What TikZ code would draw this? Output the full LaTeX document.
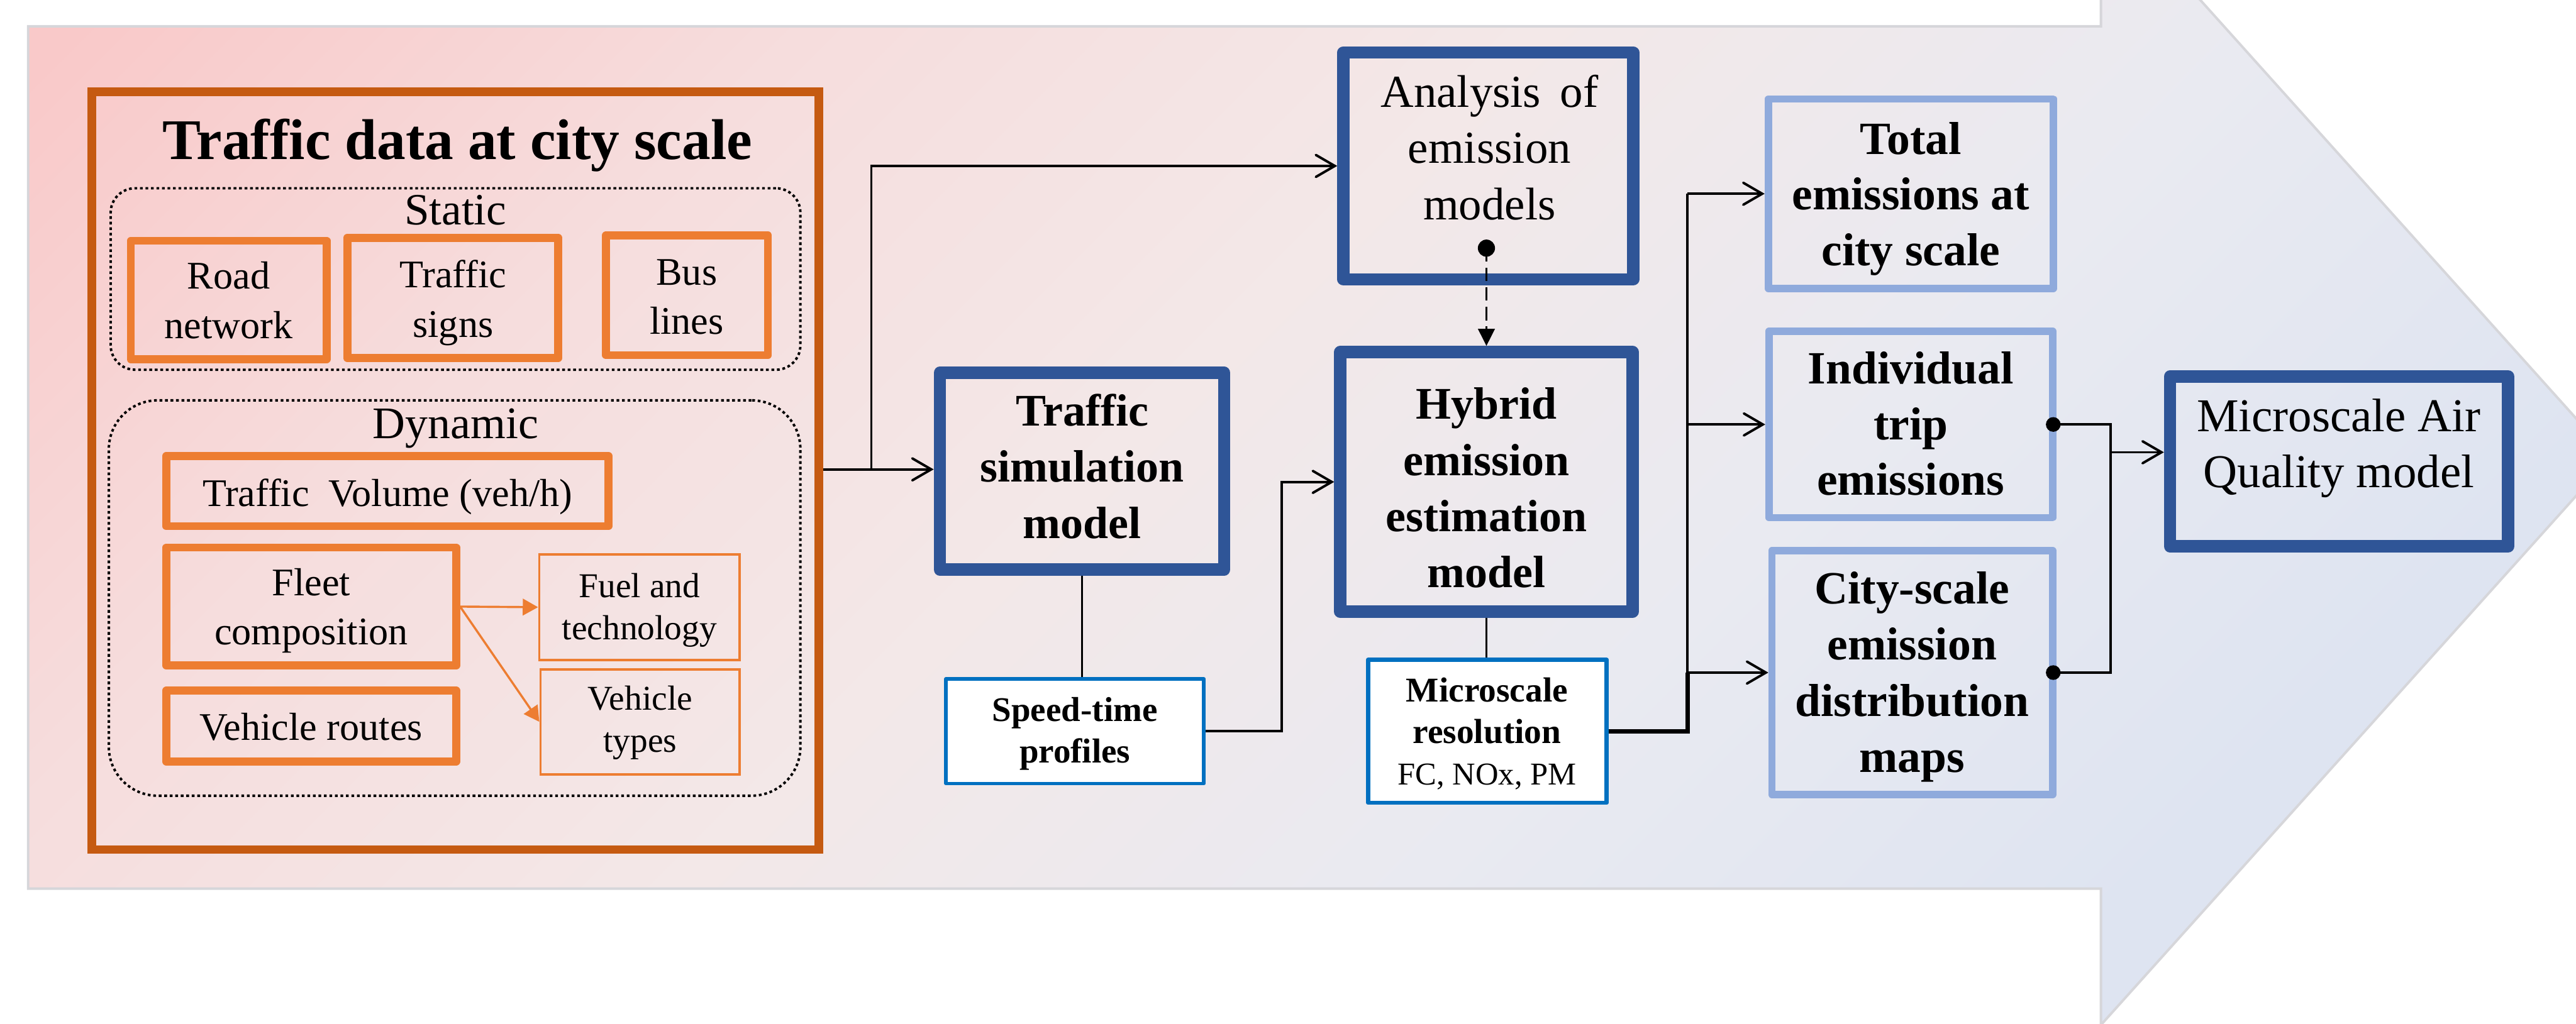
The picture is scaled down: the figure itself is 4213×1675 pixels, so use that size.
\documentclass[tikz,border=0pt]{standalone}
\usepackage{fontspec}
\setmainfont{LiberationSerif}[Extension=.ttf,UprightFont=*-Regular,BoldFont=*-Bold,ItalicFont=*-Italic,BoldItalicFont=*-BoldItalic]
\usetikzlibrary{arrows.meta}

\definecolor{dblue}{RGB}{47,85,151}
\definecolor{lblue}{RGB}{143,170,220}
\definecolor{orng}{RGB}{237,125,49}
\definecolor{dorng}{RGB}{197,90,17}
\definecolor{bblue}{RGB}{0,112,192}
\definecolor{edgegray}{RGB}{214,214,218}
% background gradient stops, from the bottom-right end to the top-left end
\definecolor{bgA}{RGB}{222,228,241}
\definecolor{bgB}{RGB}{233,234,241}
\definecolor{bgC}{RGB}{243,232,232}
\definecolor{bgD}{RGB}{246,221,221}
\definecolor{bgE}{RGB}{249,201,201}
\pgfdeclareverticalshading{bgshade}{100bp}{color(0bp)=(bgA); color(26bp)=(bgA);
  color(40bp)=(bgB); color(54bp)=(bgC); color(68bp)=(bgD); color(82bp)=(bgE); color(100bp)=(bgE)}

% centred stack of lines whose baseline is the first line
\newcommand{\stk}[1]{\begin{tabular}[t]{@{}c@{}}#1\end{tabular}}
\newcommand{\fsz}[2]{\fontsize{#1pt}{#2pt}\selectfont}

\begin{document}
\begin{tikzpicture}[x=0.01cm,y=-0.01cm,
  wh/.style 2 args={minimum width=#1*0.01cm,minimum height=#2*0.01cm},
  bluebox/.style={draw=dblue,line width=0.2cm,line join=round,inner sep=0pt},
  lbox/.style={draw=lblue,line width=0.12cm,line join=round,inner sep=0pt},
  obox/.style={draw=orng,line width=0.13cm,line join=round,inner sep=0pt},
  othin/.style={draw=orng,line width=0.04cm,inner sep=0pt},
  wbox/.style={draw=bblue,fill=white,line join=round,inner sep=0pt},
  dotbox/.style={draw=black,line width=0.04cm,dash pattern=on 0.045cm off 0.045cm,inner sep=0pt},
  txt/.style={anchor=base,inner sep=0pt},
  link/.style={line width=0.04cm},
  finelink/.style={line width=0.025cm},
  heavylink/.style={line width=0.07cm,line join=miter},
  arr/.style={link,-{Straight Barb[length=0.31cm,width=0.36cm,line cap=round]}},
  dlink/.style={line width=0.04cm,dash pattern=on 0.22cm off 0.1cm,-{Triangle[length=0.28cm,width=0.27cm]}},
  oarr/.style={draw=orng,line width=0.035cm,-{Triangle[length=0.25cm,width=0.27cm]}},
  bodyfont/.style={font=\fsz{18.2}{23.05}},
  boldbig/.style={font=\bfseries\fsz{21.05}{26.1}},
  boldout/.style={font=\bfseries\fsz{21.5}{25.9}},
]
\useasboundingbox (0,0) rectangle (4213,1675);
\clip (0,0) rectangle (4213,1675);
\fill[white] (0,0) rectangle (4213,1675);

% the large process arrow behind everything
\shade[shading=bgshade,shading angle=45]
  (46,43) -- (3436,43) -- (3436,-181) -- (4270,748) -- (3436,1677) -- (3436,1454) -- (46,1454) -- cycle;
\draw[edgegray,line width=0.04cm]
  (46,43) -- (3436,43) -- (3436,-181) -- (4270,748) -- (3436,1677) -- (3436,1454) -- (46,1454) -- cycle;

% traffic data panel
\node[draw=dorng,line width=0.14cm,inner sep=0pt,wh={1189}{1240}] (tdata) at (744.5,770) {};
\node[txt,font=\bfseries\fsz{26.75}{32}] (tdataT) at (748,261) {Traffic data at city scale};

\node[dotbox,rounded corners=0.4cm,wh={1128}{297}] (stat) at (745,456.5) {};
\node[txt,font=\fsz{20.8}{25}] (statT) at (745,368) {Static};
\node[obox,wh={320}{194}] (road) at (374,491) {};
\node[txt,bodyfont] (roadT) at (374,473) {\stk{Road\\network}};
\node[obox,wh={345}{197}] (sign) at (740.5,487.5) {};
\node[txt,bodyfont] (signT) at (741,471) {\stk{Traffic\\signs}};
\node[obox,wh={265}{196}] (busl) at (1123.5,483) {};
\node[txt,bodyfont] (buslT) at (1123,466) {\stk{Bus\\lines}};

\node[dotbox,rounded corners=0.8cm,wh={1131}{647}] (dyn) at (743.5,978.5) {};
\node[txt,font=\fsz{21}{25}] (dynT) at (745,717) {Dynamic};
\node[obox,wh={723}{115}] (vol) at (633.5,803.5) {};
\node[txt,bodyfont] (volT) at (634,829) {Traffic~~Volume (veh/h)};
\node[obox,wh={474}{193}] (fleet) at (509,992.5) {};
\node[txt,font=\fsz{18.2}{22.8}] (fleetT) at (509,975) {\stk{Fleet\\composition}};
\node[obox,wh={474}{116}] (rout) at (509,1188) {};
\node[txt,bodyfont] (routT) at (509,1211) {Vehicle routes};
\node[othin,wh={328}{173}] (fuel) at (1046,993.5) {};
\node[txt,font=\fsz{16.2}{19.6}] (fuelT) at (1046,978) {\stk{Fuel and\\technology}};
\node[othin,wh={326}{172}] (vtyp) at (1047,1181) {};
\node[txt,font=\fsz{16.2}{19.6}] (vtypT) at (1047,1162) {\stk{Vehicle\\types}};

% models
\node[bluebox,wh={465}{322}] (tsim) at (1769.5,771) {};
\node[txt,boldbig] (tsimT) at (1770,697) {\stk{Traffic\\simulation\\model}};
\node[bluebox,wh={474}{371}] (ana) at (2434,271.5) {};
\node[txt,font=\fsz{21.3}{26.2}] (anaT) at (2436,175) {\stk{Analysis\,\ of\\emission\\models}};
\node[bluebox,wh={478}{425}] (hyb) at (2431,788.5) {};
\node[txt,boldbig] (hybT) at (2431,686) {\stk{Hybrid\\emission\\estimation\\model}};

\node[wbox,line width=0.06cm,wh={422}{171}] (st) at (1758,1196.5) {};
\node[txt,font=\bfseries\fsz{16.1}{19.35}] (stT) at (1758,1180) {\stk{Speed-time\\profiles}};
\node[wbox,line width=0.07cm,wh={390}{234}] (mres) at (2432.5,1196.5) {};
\node[txt,font=\bfseries\fsz{16.2}{19.3}] (mresT) at (2432,1148)
  {\stk{Microscale\\resolution\\\mdseries\fsz{14.8}{19.3}FC, NOx, PM}};

% outputs
\node[lbox,wh={466}{310}] (tot) at (3125,317) {};
\node[txt,boldout] (totT) at (3125,252) {\stk{Total\\emissions at\\city scale}};
\node[lbox,wh={464}{305}] (ind) at (3125,694.5) {};
\node[txt,boldout] (indT) at (3125,628) {\stk{Individual\\trip\\emissions}};
\node[lbox,wh={459}{399}] (city) at (3127.5,1100.5) {};
\node[txt,font=\bfseries\fsz{21.5}{26.1}] (cityT) at (3127,988) {\stk{City-scale\\emission\\distribution\\maps}};
\node[bluebox,wh={553}{278}] (aq) at (3825.5,755) {};
\node[txt,font=\fsz{21.9}{26.2}] (aqT) at (3825,706) {\stk{Microscale Air\\Quality model}};

% junction points
\coordinate (j1) at (1425,768);
\coordinate (j2) at (2096,1000);
\coordinate (bus) at (2760,0);
\coordinate (j3) at (3452,740);
\coordinate (anaDot) at (2431,406);
\coordinate (indDot) at (3358,694.5);
\coordinate (cityDot) at (3358,1100.5);

% connectors
\draw[oarr] (fleet.east) -- (fuel.west);
\draw[oarr] (fleet.east) -- (vtyp.west);

\draw[link] (tdata.east |- j1) -- (j1);
\draw[arr] (j1) -- (j1 -| tsim.west);
\draw[arr] (j1) |- (ana.west);
\draw[finelink] (tsim.south) -- (tsim.south |- st.north);
\draw[arr] (st.east) -| (j2 |- hyb.west) -- (hyb.west);
\draw[dlink] (anaDot) -- (anaDot |- hyb.north);
\fill (anaDot) circle[radius=0.14cm];
\draw[finelink] (hyb.south) -- (hyb.south |- mres.north);

\draw[heavylink] (mres.east) -| (bus |- city.west);
\draw[link] (bus |- tot.west) -- (bus |- city.west);
\draw[arr] (bus |- tot.west) -- (tot.west);
\draw[arr] (bus |- ind.west) -- (ind.west);
\draw[arr] (bus |- city.west) -- (city.west);

\draw[link] (indDot) -| (j3);
\draw[link] (cityDot) -| (j3);
\draw[arr] (j3) -- (j3 -| aq.west);
\fill (indDot) circle[radius=0.12cm];
\fill (cityDot) circle[radius=0.12cm];
\end{tikzpicture}
\end{document}
